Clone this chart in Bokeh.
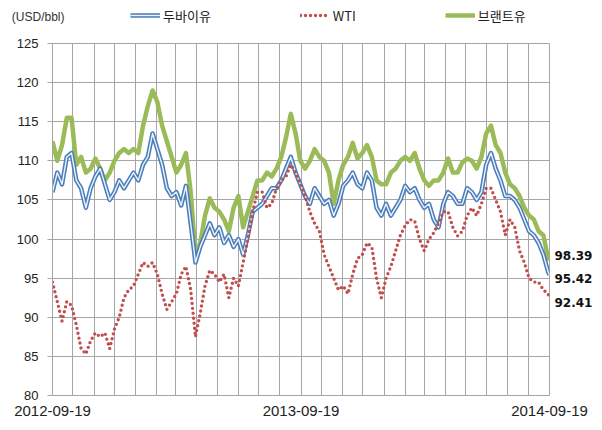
import pandas as pd
from bokeh.plotting import figure
from bokeh.layouts import column
from bokeh.models import (Range1d, FixedTicker, DatetimeTickFormatter, Legend, LegendItem,
                          ColumnDataSource, LinearAxis, NumeralTickFormatter)
from bokeh.embed import file_html
from bokeh.resources import INLINE

# ---------------- data ----------------
start_date = "2012-09-19"
end_date = "2014-09-19"
tick_labels = ["2012-09-19", "2013-09-19", "2014-09-19"]
series_names = ["두바이유", "WTI", "브랜트유"]
unit_label = "(USD/bbl)"
y_ticks = [80, 85, 90, 95, 100, 105, 110, 115, 120, 125]

# weekly observations from 2012-09-19, plus the final day 2014-09-19
dates = list(pd.date_range(start_date, periods=105, freq="7D")) + [pd.Timestamp(end_date)]

brent = [112.5, 110.0, 112.0, 115.5, 115.5, 109.5, 110.5, 108.5, 109.0, 110.3,
         109.0, 107.5, 108.5, 110.0, 111.0, 111.5, 111.0, 111.5, 111.0, 114.5,
         117.0, 119.0, 117.5, 114.5, 112.5, 110.5, 108.5, 109.5, 111.0, 106.0,
         98.0, 99.5, 103.0, 105.2, 104.0, 103.5, 102.5, 101.0, 104.0, 105.5,
         101.5, 103.5, 105.5, 107.5, 107.5, 108.5, 108.0, 109.0, 110.5, 113.0,
         116.0, 113.5, 110.0, 109.0, 110.0, 111.5, 110.5, 110.0, 108.5, 104.5,
         107.5, 109.5, 110.5, 112.3, 110.3, 111.0, 112.0, 110.5, 107.5, 107.0,
         107.0, 108.5, 109.0, 110.0, 110.5, 110.0, 111.0, 109.0, 107.5, 106.8,
         107.5, 107.5, 108.5, 110.3, 108.5, 108.5, 109.8, 110.3, 110.0, 109.0,
         110.5, 113.5, 114.5, 112.0, 111.0, 108.5, 107.0, 106.5, 105.5, 104.0,
         103.0, 102.5, 101.0, 100.5, 97.5, 98.39]

dubai = [106.0, 108.5, 107.0, 110.5, 111.0, 107.5, 106.5, 104.0, 106.5, 108.0,
         109.0, 107.0, 105.0, 106.0, 107.5, 106.5, 107.5, 108.5, 107.5, 109.5,
         110.5, 113.5, 111.5, 109.5, 106.5, 105.5, 106.0, 104.3, 106.8, 102.0,
         97.0, 99.0, 100.5, 102.0, 100.5, 101.5, 99.5, 100.5, 99.0, 100.0,
         98.0, 100.5, 103.5, 104.0, 104.5, 105.5, 106.5, 106.5, 107.5, 109.0,
         110.5, 108.5, 107.0, 105.5, 104.5, 106.5, 105.5, 104.5, 105.0, 103.0,
         104.5, 106.8, 107.5, 108.5, 107.0, 106.5, 108.5, 107.5, 104.0, 103.0,
         104.5, 103.0, 104.0, 105.0, 106.8, 106.0, 106.5, 105.0, 104.0, 104.5,
         102.5, 101.5, 104.5, 106.0, 105.5, 104.5, 104.5, 106.5, 106.0, 105.0,
         106.0, 109.5, 111.0, 109.0, 107.5, 105.5, 105.5, 105.0, 104.0, 102.5,
         101.0, 100.5, 99.5, 98.0, 95.8, 95.42]

wti = [94.5, 92.0, 89.5, 92.0, 91.5, 89.0, 86.0, 85.3, 87.0, 88.0,
       87.5, 88.0, 86.0, 88.5, 90.0, 92.5, 93.5, 94.0, 95.5, 97.0,
       96.5, 97.0, 95.5, 93.0, 91.0, 92.0, 93.0, 95.5, 96.5, 93.5,
       87.5, 90.5, 94.0, 96.0, 95.5, 94.5, 95.5, 92.5, 95.0, 94.0,
       97.0, 100.0, 103.5, 106.0, 106.0, 104.0, 104.5, 106.5, 107.5, 108.0,
       109.5, 108.5, 107.0, 105.5, 103.5, 102.0, 101.0, 98.0, 96.5, 95.0,
       93.5, 94.0, 93.0, 95.5, 97.5, 98.0, 99.5, 99.0, 95.0, 92.5,
       95.0, 96.5, 98.5, 100.5, 101.7, 102.5, 102.3, 100.0, 98.5, 100.0,
       100.8, 102.0, 103.5, 103.5, 101.5, 100.4, 101.0, 103.0, 104.0, 103.0,
       104.5, 106.5, 106.5, 105.0, 103.5, 100.5, 102.5, 101.5, 98.5, 97.0,
       95.0, 94.5, 94.5, 93.5, 93.0, 92.41]

# ---------------- styles ----------------
BRENT_C = "#9bbb59"
DUBAI_C = "#4a7ebb"
DUBAI_IN = "#eef3fa"
WTI_C = "#c0504d"
GRID_C = "#a6a6a6"
TXT_C = "#222222"

W = 602
TOP_H = 33

# ---------------- header strip (legend + unit) ----------------
top = figure(width=W, height=TOP_H, output_backend="svg", toolbar_location=None,
             x_axis_location=None, y_axis_location="left",
             x_range=Range1d(0, 1), y_range=Range1d(0, 1),
             min_border_left=52, min_border_right=53, min_border_top=0, min_border_bottom=0)
top.grid.visible = False
top.outline_line_color = None
top.background_fill_color = "white"
top.border_fill_color = "white"
# the unit caption is carried by the header strip's left axis
top.yaxis.ticker = FixedTicker(ticks=[0.5])
top.yaxis.major_label_overrides = {0.5: unit_label}
top.yaxis.axis_line_color = None
top.yaxis.major_tick_line_color = None
top.yaxis.minor_tick_line_color = None
top.yaxis.major_tick_out = 0
top.yaxis.major_tick_in = 0
top.yaxis.major_label_standoff = -12
top.yaxis.major_label_text_font = "Liberation Sans"
top.yaxis.major_label_text_font_size = "12px"
top.yaxis.major_label_text_color = "#333333"

nan = float("nan")
k_dub_o = top.line(x=[nan], y=[nan], line_color=DUBAI_C, line_width=4.5)
k_dub_i = top.line(x=[nan], y=[nan], line_color=DUBAI_IN, line_width=1.4)
k_wti = top.line(x=[nan], y=[nan], line_color=WTI_C, line_width=3.4, line_dash="0 5", line_cap="round")
k_brent = top.line(x=[nan], y=[nan], line_color=BRENT_C, line_width=4.5)

legend = Legend(items=[LegendItem(label=series_names[0], renderers=[k_dub_o, k_dub_i]),
                       LegendItem(label=series_names[1], renderers=[k_wti]),
                       LegendItem(label=series_names[2], renderers=[k_brent])],
                location=(78, TOP_H - 15 - 10), orientation="horizontal", spacing=89,
                padding=0, margin=0,
                border_line_color=None, background_fill_alpha=0, glyph_width=30,
                glyph_height=20, label_height=20, label_standoff=3,
                label_text_font="Noto Sans CJK KR", label_text_font_size="13px",
                label_text_color=TXT_C, label_text_baseline="middle")
top.add_layout(legend)

# ---------------- main chart ----------------
t0 = pd.Timestamp(start_date)
t1 = pd.Timestamp(end_date)
month_ticks = [d.value / 1e6 for d in pd.date_range(start_date, end_date, freq=pd.DateOffset(months=1))]
label_ticks = [pd.Timestamp(s).value / 1e6 for s in tick_labels]

p = figure(width=W, height=430 - TOP_H, x_axis_type="datetime", output_backend="svg",
           toolbar_location=None,
           x_range=Range1d(t0.to_pydatetime(), t1.to_pydatetime()),
           y_range=Range1d(80, 125),
           min_border_left=52, min_border_right=53, min_border_top=43 - TOP_H,
           min_border_bottom=35)
p.background_fill_color = "white"
p.border_fill_color = "white"
p.outline_line_color = GRID_C

p.xgrid.ticker = FixedTicker(ticks=month_ticks)
p.ygrid.ticker = FixedTicker(ticks=y_ticks)
p.xgrid.grid_line_color = GRID_C
p.ygrid.grid_line_color = GRID_C

fmt = "%Y-%m-%d"
p.xaxis.ticker = FixedTicker(ticks=label_ticks)
p.xaxis.formatter = DatetimeTickFormatter(microseconds=fmt, milliseconds=fmt, seconds=fmt, minsec=fmt,
                                          minutes=fmt, hourmin=fmt, hours=fmt, days=fmt,
                                          months=fmt, years=fmt, context=None)
p.xaxis.major_tick_out = 0
p.xaxis.major_tick_in = 0
p.xaxis.minor_tick_line_color = None
p.xaxis.axis_line_color = GRID_C
p.xaxis.major_label_text_font = "Liberation Sans"
p.xaxis.major_label_text_font_size = "15px"
p.xaxis.major_label_text_color = TXT_C
p.xaxis.major_label_standoff = 10

p.yaxis.ticker = FixedTicker(ticks=y_ticks)
p.yaxis.major_tick_out = 5
p.yaxis.major_tick_in = 0
p.yaxis.major_tick_line_color = GRID_C
p.yaxis.minor_tick_line_color = None
p.yaxis.axis_line_color = GRID_C
p.yaxis.major_label_text_font = "Liberation Sans"
p.yaxis.major_label_text_font_size = "13px"
p.yaxis.major_label_text_color = TXT_C
p.yaxis.major_label_standoff = 9

src = ColumnDataSource(dict(date=dates, brent=brent, dubai=dubai, wti=wti))

p.line("date", "brent", source=src, line_color=BRENT_C, line_width=4.5, line_join="round")
p.line("date", "dubai", source=src, line_color=DUBAI_C, line_width=4.5, line_join="round")
p.line("date", "dubai", source=src, line_color=DUBAI_IN, line_width=1.4, line_join="round")
p.line("date", "wti", source=src, line_color=WTI_C, line_width=3.4,
       line_dash="0 5", line_cap="round", line_join="round")

# end-of-series value labels on a right-hand axis
end_vals = [brent[-1], dubai[-1], wti[-1]]
p.extra_y_ranges = {"endlbl": Range1d(80.5, 125.5)}
r_ax = LinearAxis(y_range_name="endlbl", ticker=FixedTicker(ticks=end_vals),
                  formatter=NumeralTickFormatter(format="0.00"))
r_ax.axis_line_color = None
r_ax.major_tick_line_color = None
r_ax.major_tick_out = 0
r_ax.major_tick_in = 0
r_ax.minor_tick_line_color = None
r_ax.major_label_standoff = 5
r_ax.major_label_text_font = "DejaVu Sans"
r_ax.major_label_text_font_style = "bold"
r_ax.major_label_text_font_size = "12px"
r_ax.major_label_text_color = "#111111"
p.add_layout(r_ax, "right")

layout = column(top, p, spacing=0)
open("out.html", "w").write(file_html(layout, INLINE))
